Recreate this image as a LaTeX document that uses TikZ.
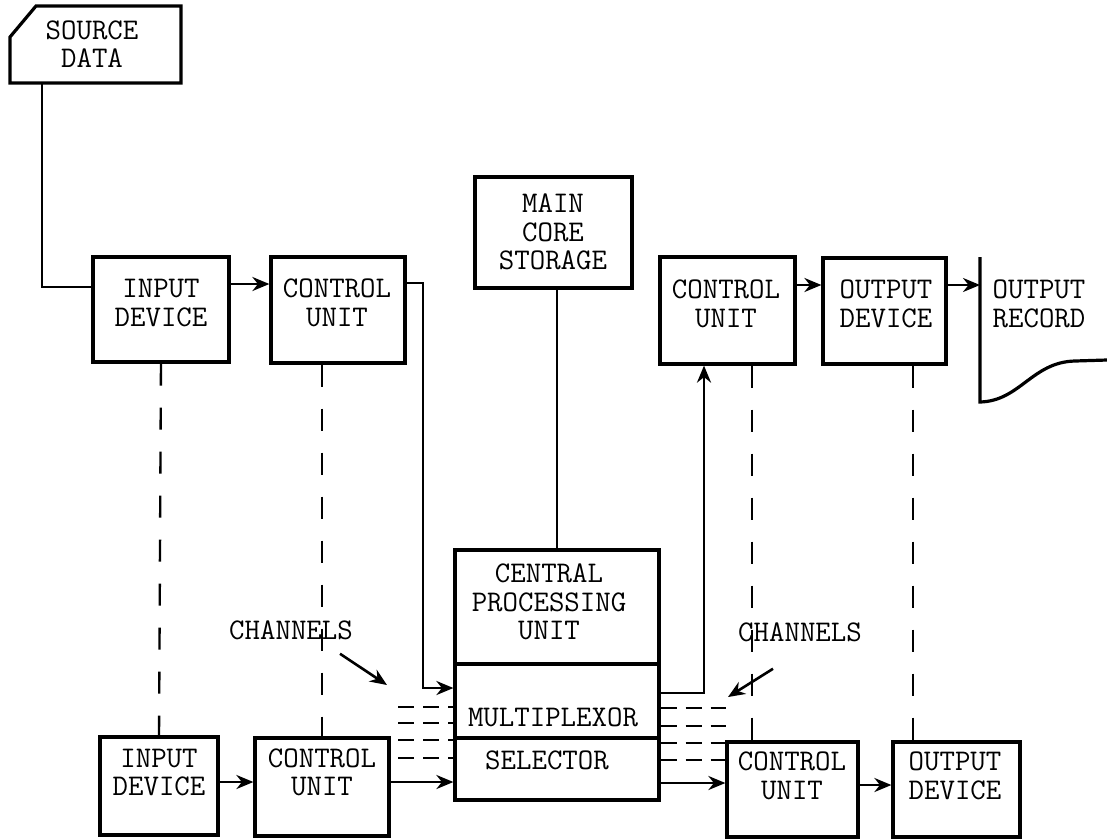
\documentclass[tikz,border=0pt]{standalone}
\usetikzlibrary{arrows.meta}

\begin{document}
\begin{tikzpicture}[x=1pt, y=-1pt,
  ubox/.style 2 args={draw, line width=3.2pt, minimum width=#1pt, minimum height=#2pt, inner sep=0pt},
  txt/.style={font=\ttfamily\fontsize{30}{28.5}\selectfont, align=center, inner sep=0pt},
  conn/.style={line width=2.6pt},
  arr/.style={conn, -{Stealth[length=17pt, width=14pt]}},
  vdash/.style={line width=2.4pt, dash pattern=on 22pt off 22pt},
  chan/.style={line width=2.4pt, dash pattern=on 16pt off 9pt}
]
\useasboundingbox (0,0) rectangle (1107,839);

% source data
\draw[line width=3.2pt] (10,37) -- (36,6) -- (181,6) -- (181,83) -- (10,83) -- cycle;
\node[txt] (src) at (92,44) {SOURCE\\DATA};
\coordinate (srcout) at (42,83);

% upper row
\node[ubox={136}{105}] (in1) at (161,309.5) {};
\node[txt] at (161,303) {INPUT\\DEVICE};
\node[ubox={134}{106}] (cu1) at (338,310) {};
\node[txt] at (337,303) {CONTROL\\UNIT};
\node[ubox={157}{111}] (core) at (553.5,232.5) {};
\node[txt] at (553,232) {MAIN\\CORE\\STORAGE};
\node[ubox={135}{107}] (cu2) at (727.5,310.5) {};
\node[txt] at (726,304) {CONTROL\\UNIT};
\node[ubox={123}{106}] (out1) at (884.5,311) {};
\node[txt] at (886,304) {OUTPUT\\DEVICE};

% output record
\draw[line width=3.2pt] (980,257) -- (980,402)
  .. controls (1020,401) and (1032,362) .. (1075,361) -- (1107,360);
\node[txt] (rec) at (1039,304) {OUTPUT\\RECORD};
\coordinate (recin) at (980,285);

% central processing unit
\node[ubox={204}{250}] (cpu) at (557,675) {};
\node[txt] at (549,602) {CENTRAL\\PROCESSING\\UNIT};
\draw[line width=3.2pt] (cpu.west |- 0,664) -- (cpu.east |- 0,664);
\draw[line width=3.2pt] (cpu.west |- 0,738) -- (cpu.east |- 0,738);
\node[txt] (mpx) at (553,717) {MULTIPLEXOR};
\node[txt] (sel) at (547,760) {SELECTOR};

% lower row
\node[ubox={118}{98}] (in2) at (159,786) {};
\node[txt] at (159,772.5) {INPUT\\DEVICE};
\node[ubox={134}{98}] (cu3) at (322,787) {};
\node[txt] at (322,772.5) {CONTROL\\UNIT};
\node[ubox={131}{95}] (cu4) at (792.5,789.5) {};
\node[txt] at (792,776) {CONTROL\\UNIT};
\node[ubox={127}{95}] (out2) at (956.5,789.5) {};
\node[txt] at (955,776) {OUTPUT\\DEVICE};

% connectors
\draw[conn] (srcout) |- (in1.west |- 0,287);
\draw[arr] (in1.east |- 0,284) -- (cu1.west |- 0,284);
\draw[arr] (cu1.east |- 0,283) -| (423,688) -- (cpu.west |- 0,688);
\draw[conn] (cpu.north |- core.south) -- (cpu.north);
\draw[arr] (cpu.east |- 0,693) -| (cu2.south -| 704,0);
\draw[arr] (cu2.east |- 0,285) -- (out1.west |- 0,285);
\draw[arr] (out1.east |- 0,285) -- (recin);

\draw[arr] (in2.east |- 0,782) -- (cu3.west |- 0,782);
\draw[arr] (cu3.east |- 0,782) -- (cpu.west |- 0,782);
\draw[arr] (cpu.east |- 0,783) -- (cu4.west |- 0,783);
\draw[arr] (cu4.east |- 0,785) -- (out2.west |- 0,785);

% dashed links between rows
\draw[vdash] (in1.south) -- (in2.north);
\draw[vdash] (cu3.north |- cu1.south) -- (cu3.north);
\draw[vdash] (cu2.south -| 752,0) -- (cu4.north -| 752,0);
\draw[vdash] (out1.south -| 913,0) -- (out2.north -| 913,0);

% channels
\foreach \y in {707,723,740,758}
  \draw[chan] (398,\y) -- (cpu.west |- 0,\y);
\foreach \y in {708,726,743,760}
  \draw[chan] (cpu.east |- 0,\y) -- (726,\y);

\node[txt] (chl) at (291,630) {CHANNELS};
\coordinate (chltip) at (387,685);
\draw[arr] ([shift={(-13,14)}]chl.south east) -- (chltip);
\node[txt] (chr) at (800,632) {CHANNELS};
\coordinate (chrtip) at (728,697);
\draw[arr] ([shift={(35,27)}]chr.south west) -- (chrtip);
\end{tikzpicture}
\end{document}
